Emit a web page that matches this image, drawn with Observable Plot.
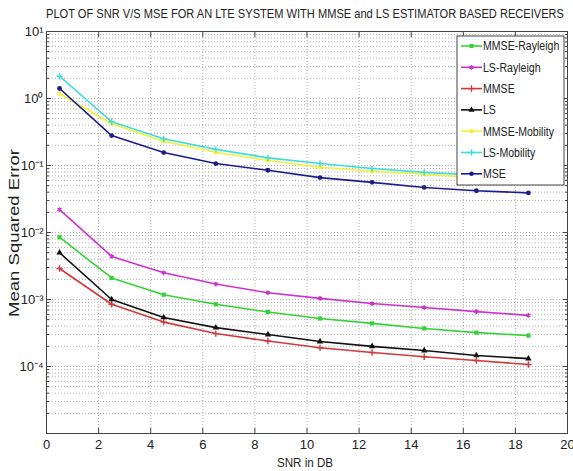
<!DOCTYPE html>
<html>
<head>
<meta charset="utf-8">
<script src="https://cdn.jsdelivr.net/npm/d3@7"></script>
<script src="https://cdn.jsdelivr.net/npm/@observablehq/plot@0.6"></script>
<style>
  html, body { margin: 0; padding: 0; background: #fff; }
  #chart svg { display: block; }
</style>
</head>
<body>
<div id="chart"></div>
<script>
const snr = [0.5, 2.5, 4.5, 6.5, 8.5, 10.5, 12.5, 14.5, 16.5, 18.5];
const seriesNames = ["MMSE-Rayleigh", "LS-Rayleigh", "MMSE", "LS", "MMSE-Mobility", "LS-Mobility", "MSE"];
const seriesColors = ["#35d335", "#cc33cc", "#d03a3a", "#111111", "#f2f23a", "#3fdcdc", "#1c1c8c"];
const seriesSymbols = ["square", "asterisk", "plus", "triangle", "asterisk", "plus", "circle"];
const mmseRayleigh = [0.0085, 0.0021, 0.00118, 0.00085, 0.00065, 0.00052, 0.00044, 0.00037, 0.00032, 0.00029];
const lsRayleigh   = [0.022, 0.0044, 0.0025, 0.0017, 0.00126, 0.00104, 0.00087, 0.00076, 0.00066, 0.00058];
const mmse         = [0.0029, 0.00085, 0.00046, 0.00031, 0.00024, 0.00019, 0.000162, 0.00014, 0.000123, 0.000107];
const ls           = [0.005, 0.001, 0.00054, 0.00038, 0.0003, 0.000236, 0.0002, 0.000173, 0.000146, 0.000131];
const mmseMobility = [1.19, 0.42, 0.23, 0.158, 0.119, 0.094, 0.082, 0.074, 0.066, 0.06];
const lsMobility   = [2.15, 0.45, 0.25, 0.174, 0.13, 0.107, 0.09, 0.079, 0.072, 0.066];
const mseSeries    = [1.41, 0.28, 0.156, 0.107, 0.085, 0.066, 0.056, 0.047, 0.042, 0.039];
const seriesValues = [mmseRayleigh, lsRayleigh, mmse, ls, mmseMobility, lsMobility, mseSeries];
const xTicks = [0, 2, 4, 6, 8, 10, 12, 14, 16, 18, 20];
const yTicks = [1e-5, 1e-4, 1e-3, 1e-2, 1e-1, 1, 10];
const yTickLabels = [1e-4, 1e-3, 1e-2, 1e-1, 1, 10];
const titleText = "PLOT OF SNR V/S MSE FOR AN LTE SYSTEM WITH MMSE and LS ESTIMATOR BASED RECEIVERS";
const xLabel = "SNR in DB";
const yLabel = "Mean Squared Error";

const data = seriesNames.flatMap((name, i) =>
  snr.map((x, j) => ({series: name, x, y: seriesValues[i][j]})));

const minorY = [];
for (let k = -5; k < 1; k++) for (let m = 2; m <= 9; m++) minorY.push(m * Math.pow(10, k));

const sup = {"-": "\u207B", "0": "\u2070", "1": "\u00B9", "2": "\u00B2", "3": "\u00B3", "4": "\u2074", "5": "\u2075"};
const fmtY = d => "10" + String(Math.round(Math.log10(d))).split("").map(c => sup[c]).join("");

const font = "'Liberation Sans', Arial, sans-serif";
const filled = new Set(["square", "triangle", "circle"]);

const chart = Plot.plot({
  width: 573,
  height: 471,
  marginLeft: 46,
  marginRight: 6,
  marginTop: 31,
  marginBottom: 38,
  style: {fontFamily: font, fontSize: "13px", background: "#fff", color: "#222"},
  x: {domain: [0, 20]},
  y: {type: "log", domain: [1e-5, 10]},
  color: {domain: seriesNames, range: seriesColors},
  symbol: {domain: seriesNames, range: seriesSymbols},
  marks: [
    Plot.ruleY(minorY, {stroke: "#9a9a9a", strokeDasharray: "1,2", strokeWidth: 0.8}),
    Plot.ruleY(yTicks, {stroke: "#9a9a9a", strokeDasharray: "1,2", strokeWidth: 0.8}),
    Plot.ruleX(xTicks.slice(1, -1), {stroke: "#9a9a9a", strokeDasharray: "1,2", strokeWidth: 0.8}),
    Plot.axisY(minorY, {anchor: "left", tickSize: -3, tickFormat: () => "", label: null, stroke: "#444"}),
    Plot.axisY(minorY, {anchor: "right", tickSize: -3, tickFormat: () => "", label: null, stroke: "#444"}),
    Plot.axisY(yTicks, {anchor: "left", tickSize: -5, tickFormat: () => "", label: null, stroke: "#444"}),
    Plot.axisY(yTicks, {anchor: "right", tickSize: -5, tickFormat: () => "", label: null, stroke: "#444"}),
    Plot.axisY(yTickLabels, {anchor: "left", tickSize: 0, tickPadding: 3, tickFormat: fmtY, label: null, fontSize: 13, fill: "#222"}),
    Plot.axisX(xTicks, {anchor: "bottom", tickSize: -5, tickFormat: () => "", label: null, stroke: "#444"}),
    Plot.axisX(xTicks, {anchor: "top", tickSize: -5, tickFormat: () => "", label: null, stroke: "#444"}),
    Plot.axisX(xTicks, {anchor: "bottom", tickSize: 0, tickPadding: 6, label: null, fontSize: 13, fill: "#222"}),
    Plot.frame({stroke: "#444"}),
    Plot.line(data, {x: "x", y: "y", z: "series", stroke: "series", strokeWidth: 1.6}),
    Plot.dot(data.filter(d => !filled.has(seriesSymbols[seriesNames.indexOf(d.series)])),
      {x: "x", y: "y", stroke: "series", symbol: "series", r: 2.2, strokeWidth: 1.4}),
    Plot.dot(data.filter(d => filled.has(seriesSymbols[seriesNames.indexOf(d.series)])),
      {x: "x", y: "y", fill: "series", symbol: "series", r: 2.4})
  ]
});

document.getElementById("chart").appendChild(chart);

const svg = d3.select(chart);
// Title and axis labels
svg.append("text").attr("x", 305).attr("y", 18).attr("text-anchor", "middle")
  .attr("font-family", font).attr("font-size", 12.5).attr("fill", "#222")
  .attr("textLength", 518).attr("lengthAdjust", "spacingAndGlyphs").text(titleText);
svg.append("text").attr("x", 305).attr("y", 467).attr("text-anchor", "middle")
  .attr("font-family", font).attr("font-size", 13).attr("fill", "#222")
  .attr("textLength", 56).attr("lengthAdjust", "spacingAndGlyphs").text(xLabel);
svg.append("text").attr("transform", "translate(19,233) rotate(-90)").attr("text-anchor", "middle")
  .attr("font-family", font).attr("font-size", 15).attr("fill", "#222")
  .attr("textLength", 168).attr("lengthAdjust", "spacingAndGlyphs").text(yLabel);

// Legend box
const lg = svg.append("g").attr("font-family", font).attr("font-size", 12).attr("text-anchor", "start");
lg.append("rect").attr("x", 457).attr("y", 36).attr("width", 107).attr("height", 149)
  .attr("fill", "#fff").attr("stroke", "#444").attr("stroke-width", 1);
const sym = {
  square: d3.symbolSquare, asterisk: d3.symbolAsterisk, plus: d3.symbolPlus,
  triangle: d3.symbolTriangle, circle: d3.symbolCircle
};
seriesNames.forEach((name, i) => {
  const y = 46 + i * 21.3;
  const s = seriesSymbols[i];
  lg.append("line").attr("x1", 461).attr("x2", 482).attr("y1", y).attr("y2", y)
    .attr("stroke", seriesColors[i]).attr("stroke-width", 1.6);
  lg.append("path").attr("d", d3.symbol(sym[s], 16)())
    .attr("transform", `translate(471.5,${y})`)
    .attr("fill", filled.has(s) ? seriesColors[i] : "none")
    .attr("stroke", filled.has(s) ? "none" : seriesColors[i]).attr("stroke-width", 1.3);
  const t = lg.append("text").attr("x", 483).attr("y", y).attr("dy", "0.36em").attr("fill", "#222").text(name);
  const w = t.node().getComputedTextLength();
  t.attr("textLength", w * 0.88).attr("lengthAdjust", "spacingAndGlyphs");
});
</script>
</body>
</html>
